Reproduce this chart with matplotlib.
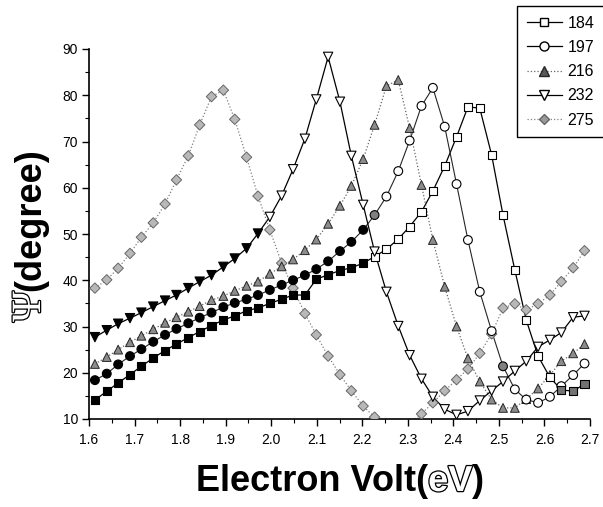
import matplotlib
matplotlib.use("Agg")
import matplotlib.pyplot as plt
import matplotlib.patheffects as pe
from matplotlib.lines import Line2D
from matplotlib.ticker import MultipleLocator

plt.rcParams['font.family'] = ['Liberation Sans', 'DejaVu Sans']

# photon energy (eV), same grid for every sample
ev = [1.613, 1.639, 1.664, 1.690, 1.715, 1.741, 1.767, 1.792, 1.818, 1.843,
      1.869, 1.895, 1.920, 1.946, 1.971, 1.997, 2.023, 2.048, 2.074, 2.099,
      2.125, 2.151, 2.176, 2.202, 2.227, 2.253, 2.279, 2.304, 2.330, 2.355,
      2.381, 2.407, 2.432, 2.458, 2.484, 2.509, 2.535, 2.560, 2.586, 2.612,
      2.637, 2.663, 2.688]

psi_184 = [14.1, 16.0, 17.8, 19.6, 21.4, 23.2, 24.8, 26.2, 27.6, 28.9,
           30.2, 31.4, 32.3, 33.4, 34.0, 35.0, 35.9, 36.8, 36.8, 40.2,
           41.2, 42.1, 42.7, 43.7, 45.1, 46.7, 48.9, 51.6, 54.8, 59.3,
           64.7, 71.0, 77.5, 77.2, 67.1, 54.1, 42.2, 31.4, 23.6, 19.0,
           16.3, 16.0, 17.6]

psi_197 = [18.4, 19.8, 21.8, 23.6, 25.1, 26.7, 28.2, 29.5, 30.7, 31.9,
           33.0, 34.2, 35.1, 35.9, 36.8, 37.9, 39.0, 40.0, 41.1, 42.4,
           44.1, 46.3, 48.3, 50.9, 54.1, 58.1, 63.6, 70.2, 77.7, 81.6,
           73.2, 60.8, 48.7, 37.5, 29.0, 21.4, 16.4, 14.2, 13.5, 14.8,
           17.1, 19.5, 22.0]

psi_216 = [21.9, 23.4, 25.0, 26.6, 28.0, 29.4, 30.8, 32.0, 33.2, 34.4,
           35.7, 36.6, 37.7, 38.8, 39.7, 41.4, 43.0, 44.5, 46.5, 48.8,
           52.2, 56.1, 60.4, 66.2, 73.6, 82.0, 83.3, 72.9, 60.6, 48.7,
           38.6, 30.0, 23.1, 18.1, 14.2, 12.4, 12.4, 14.3, 16.6, 19.5,
           22.5, 24.2, 26.2]

psi_232 = [27.7, 29.2, 30.6, 31.8, 33.0, 34.3, 35.6, 36.8, 38.3, 39.7,
           41.1, 42.9, 44.7, 46.9, 50.1, 53.7, 58.3, 64.0, 70.6, 79.1,
           88.3, 78.6, 66.9, 56.3, 46.2, 37.5, 30.1, 23.8, 18.7, 14.8,
           12.1, 10.9, 11.7, 14.0, 16.1, 18.1, 20.4, 22.5, 25.6, 27.1,
           28.7, 32.0, 32.3]

psi_275 = [38.3, 40.1, 42.6, 45.8, 49.3, 52.4, 56.5, 61.7, 66.9, 73.6,
           79.7, 81.1, 74.8, 66.6, 58.2, 50.9, 43.7, 38.3, 32.8, 28.2,
           23.6, 19.6, 16.1, 12.8, 10.4, 8.3, 7.5, 8.8, 11.1, 13.5,
           16.1, 18.5, 20.8, 24.2, 28.4, 34.0, 34.9, 33.6, 34.9, 36.8,
           39.7, 42.7, 46.4]

labels = ['184', '197', '216', '232', '275']

n = len(ev)
# marker fills: dense black at low energy, open at high energy like the scan
fc_184 = ['k' if i < 24 else ('0.45' if i >= 40 else 'w') for i in range(n)]
fc_197 = ['k' if i < 24 else ('0.5' if i in (24, 35) else 'w') for i in range(n)]
fc_216 = ['0.55'] * n
fc_232 = ['k' if i < 15 else 'w' for i in range(n)]
fc_275 = ['0.72'] * n

fig = plt.figure(figsize=(6.03, 5.07), dpi=100)
ax = fig.add_axes([89/603, 1 - 419/507, (590 - 89)/603, (419 - 49)/507])

# lines
ax.plot(ev, psi_184, '-', color='k', lw=0.9, zorder=2)
ax.plot(ev, psi_197, '-', color='0.15', lw=0.8, zorder=2)
ax.plot(ev, psi_216, ':', color='0.4', lw=0.9, zorder=2)
ax.plot(ev, psi_232, '-', color='k', lw=0.9, zorder=2)
ax.plot(ev, psi_275, ':', color='0.5', lw=0.9, zorder=2)

# markers
ax.scatter(ev, psi_275, s=28, marker='D', facecolors=fc_275, edgecolors='0.4', linewidths=0.7, zorder=3)
ax.scatter(ev, psi_216, s=40, marker='^', facecolors=fc_216, edgecolors='0.15', linewidths=0.7, zorder=3)
ax.scatter(ev, psi_197, s=40, marker='o', facecolors=fc_197, edgecolors='k', linewidths=0.8, zorder=4)
ax.scatter(ev, psi_184, s=34, marker='s', facecolors=fc_184, edgecolors='k', linewidths=0.8, zorder=4)
ax.scatter(ev, psi_232, s=45, marker='v', facecolors=fc_232, edgecolors='k', linewidths=0.8, zorder=5)

ax.set_xlim(1.6, 2.7)
ax.set_ylim(10, 90)
ax.xaxis.set_major_locator(MultipleLocator(0.1))
ax.xaxis.set_minor_locator(MultipleLocator(0.05))
ax.yaxis.set_major_locator(MultipleLocator(10))
ax.yaxis.set_minor_locator(MultipleLocator(5))
ax.xaxis.set_major_formatter(plt.FuncFormatter(lambda v, p: f"{v:.1f}"))
ax.tick_params(axis='both', which='major', direction='out', length=5, width=1, labelsize=10)
ax.tick_params(axis='both', which='minor', direction='out', length=3, width=0.8)
ax.tick_params(axis='x', which='major', pad=5)
ax.tick_params(axis='y', which='major', pad=3)
for s in ['top', 'right']:
    ax.spines[s].set_visible(False)
for s in ['left', 'bottom']:
    ax.spines[s].set_linewidth(1.2)

handles = [
    Line2D([0], [0], color='k', lw=0.9, marker='s', mfc='w', mec='k', ms=6),
    Line2D([0], [0], color='k', lw=0.9, marker='o', mfc='w', mec='k', ms=6.5),
    Line2D([0], [0], color='0.4', lw=0.9, ls=':', marker='^', mfc='0.35', mec='0.15', ms=7),
    Line2D([0], [0], color='k', lw=0.9, marker='v', mfc='w', mec='k', ms=7),
    Line2D([0], [0], color='0.5', lw=0.9, ls=':', marker='D', mfc='0.6', mec='0.4', ms=5.5),
]
leg = fig.legend(handles, labels, loc='upper left', bbox_to_anchor=(517/603, 1 - 6/507),
                 bbox_transform=fig.transFigure, fontsize=11.5, frameon=True, fancybox=False,
                 edgecolor='k', framealpha=1, handlelength=2.2, labelspacing=0.58,
                 borderpad=0.6, handletextpad=0.35, borderaxespad=0)
leg.get_frame().set_linewidth(1.0)

# axis titles: mixed solid / outlined pieces, chained one after another
outline = [pe.withStroke(linewidth=1.8, foreground='k')]
fig.canvas.draw()
r = fig.canvas.get_renderer()

x0 = 196 / 603
yb = (507 - 491) / 507
parts = [('Electron Volt(', 'k', None), ('eV', 'w', outline), (')', 'k', None)]
for txt, col, eff in parts:
    t = fig.text(x0, yb, txt, fontsize=26, fontweight='bold', color=col,
                 ha='left', va='baseline', path_effects=eff)
    x0 += t.get_window_extent(r).width / fig.bbox.width

xl = 40 / 603
y0 = (507 - 322) / 507
t = fig.text(xl, y0, '\u03a8', fontsize=30, family='Liberation Serif', color='w',
             rotation=90, rotation_mode='anchor', ha='left', va='baseline',
             path_effects=outline)
y0 += t.get_window_extent(r).height / fig.bbox.height
fig.text(xl, y0, '(degree)', fontsize=26, fontweight='bold', color='k',
         rotation=90, rotation_mode='anchor', ha='left', va='baseline')

fig.savefig('out.png', dpi=100)
